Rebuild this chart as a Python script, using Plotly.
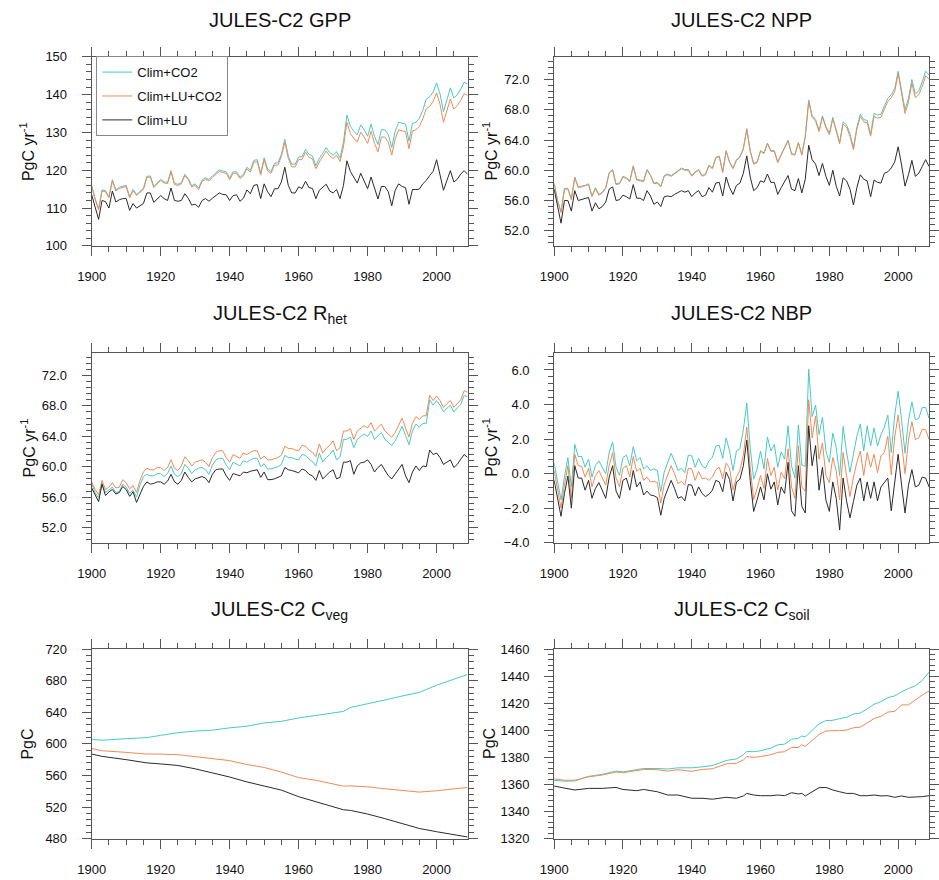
import plotly.graph_objects as go

YEARS = list(range(1900, 2010))

# ---------------- GPP ----------------
gpp_clim_co2 = [116.0,112.5,109.8,114.8,114.6,113.0,117.5,114.8,115.5,115.8,
                116.0,113.0,114.9,113.6,114.4,115.2,118.4,118.5,115.7,116.8,
                117.6,116.9,116.8,119.9,116.5,116.3,116.7,118.9,117.8,115.9,
                116.4,115.3,117.4,118.0,117.6,118.5,119.2,120.1,119.8,119.6,
                117.9,119.6,119.6,118.2,118.9,120.8,120.0,122.6,122.8,119.2,
                123.3,120.3,119.7,121.8,122.0,124.2,128.2,123.8,121.6,121.6,
                123.5,123.6,125.5,124.2,123.8,121.2,123.1,124.7,126.0,124.7,
                124.0,124.9,123.2,127.5,134.6,131.6,130.3,129.4,132.0,130.7,
                129.0,132.2,129.0,126.8,130.7,130.7,129.4,126.0,130.3,132.7,
                132.4,132.2,127.7,132.4,132.7,133.7,135.9,138.8,139.4,140.7,
                143.1,140.2,135.5,138.5,141.8,139.1,140.0,141.5,143.3,142.8]
gpp_clim_lu_co2 = [115.7,112.2,109.5,114.5,114.3,112.7,117.2,114.5,115.2,115.5,
                   115.7,112.7,114.6,113.3,114.1,114.9,118.1,118.2,115.4,116.5,
                   117.3,116.6,116.5,119.6,116.2,116.0,116.4,118.6,117.5,115.6,
                   116.0,114.9,117.0,117.6,117.2,118.1,118.8,119.7,119.4,119.2,
                   117.5,119.2,119.2,117.8,118.5,120.4,119.5,122.1,122.3,118.7,
                   122.8,119.8,119.2,121.3,121.4,123.6,127.5,123.1,120.9,120.9,
                   122.8,122.9,124.8,123.4,123.0,120.4,122.2,123.8,125.1,123.8,
                   123.1,124.0,122.3,126.2,132.7,129.7,128.4,127.5,130.1,128.8,
                   127.1,130.3,127.1,124.9,128.8,128.8,127.4,124.0,128.3,130.7,
                   130.4,130.2,125.7,130.4,130.7,131.6,133.6,136.3,136.9,138.2,
                   140.5,137.4,132.7,135.7,138.9,136.2,137.1,138.5,140.3,139.8]
gpp_clim_lu = [113.5,110.5,107.0,112.0,111.7,110.0,114.5,111.6,112.2,112.5,
               112.5,109.4,111.2,110.0,110.6,111.2,114.0,114.0,111.5,112.5,
               113.3,112.5,112.0,115.3,112.0,111.8,112.0,113.8,112.6,110.8,
               111.0,110.2,112.0,112.5,111.8,112.6,113.3,114.0,113.6,113.5,
               112.0,113.3,113.5,111.8,112.6,114.8,113.8,116.0,116.2,112.5,
               116.4,114.3,113.0,115.1,115.1,116.9,120.8,116.0,114.0,114.0,
               115.6,115.2,117.1,115.4,115.2,112.5,114.7,115.4,116.3,114.5,
               114.0,114.9,112.5,116.0,122.5,119.7,118.2,116.6,119.2,117.3,
               115.1,118.2,115.1,112.4,115.7,115.7,114.3,110.6,114.7,116.4,
               115.7,115.4,111.0,114.9,114.9,115.0,116.4,117.3,118.6,119.7,
               122.8,119.0,114.7,117.3,119.9,116.9,117.6,119.0,119.9,118.9]

# ---------------- NPP ----------------
npp_clim_co2 = [58.3,56.0,54.5,57.6,57.6,56.2,59.1,57.8,57.9,58.0,
                58.2,56.6,57.7,56.8,57.1,57.7,59.7,60.1,58.2,58.3,
                59.2,59.0,58.6,60.6,58.8,58.7,58.6,60.1,59.4,58.3,
                58.4,57.9,59.3,59.5,59.3,59.6,59.9,60.3,60.1,60.1,
                59.3,59.8,60.1,59.3,59.5,60.7,60.3,61.7,61.9,59.8,
                62.6,61.1,60.3,61.4,61.8,62.9,65.5,62.6,60.9,61.1,
                62.6,62.3,63.6,62.6,62.6,61.1,62.1,63.1,64.0,62.2,
                62.1,63.7,62.1,64.5,69.3,67.2,66.7,65.3,67.2,65.8,
                64.9,67.0,65.2,63.7,66.4,66.0,64.8,63.0,65.7,67.4,
                66.7,66.6,64.8,67.5,67.3,67.4,68.5,69.5,70.0,70.8,
                73.1,70.4,68.0,69.5,72.0,70.1,70.5,71.7,73.1,72.6]
npp_clim_lu_co2 = [58.2,55.9,54.4,57.5,57.5,56.1,59.0,57.7,57.8,57.9,
                   58.1,56.5,57.6,56.7,57.0,57.6,59.6,60.0,58.1,58.2,
                   59.1,58.9,58.5,60.5,58.7,58.6,58.5,60.0,59.3,58.2,
                   58.3,57.8,59.2,59.4,59.2,59.5,59.8,60.2,60.0,60.0,
                   59.2,59.7,60.0,59.2,59.4,60.6,60.2,61.6,61.8,59.7,
                   62.5,61.0,60.2,61.3,61.7,62.8,65.4,62.5,60.8,61.0,
                   62.5,62.2,63.5,62.5,62.5,61.0,62.0,63.0,63.9,62.1,
                   62.0,63.6,62.0,64.4,69.1,67.0,66.5,65.1,67.0,65.6,
                   64.7,66.8,65.0,63.5,66.1,65.7,64.5,62.7,65.4,67.1,
                   66.4,66.3,64.5,67.1,66.9,67.0,68.1,69.1,69.6,70.4,
                   72.8,69.9,67.5,69.0,71.5,69.6,70.0,71.1,72.5,72.0]
npp_clim_lu = [57.5,55.0,53.0,56.0,56.0,54.6,57.3,56.0,56.1,56.3,
               56.4,54.6,55.7,54.9,55.2,55.8,57.5,57.8,56.0,56.1,
               56.7,56.5,56.2,58.1,56.3,56.3,56.0,57.3,56.6,55.5,
               55.8,55.2,56.5,56.6,56.5,56.8,57.0,57.3,57.1,57.3,
               56.5,57.0,57.3,56.5,56.7,57.7,57.1,58.3,58.4,56.6,
               59.1,57.7,56.8,58.0,58.3,59.6,61.9,59.1,57.3,57.7,
               58.6,58.4,59.5,58.4,58.4,56.8,57.7,58.6,59.3,57.5,
               57.3,58.9,57.0,58.8,63.3,61.4,60.8,59.3,60.9,59.2,
               58.0,60.0,57.9,56.6,59.0,58.6,57.5,55.4,57.7,59.4,
               58.8,58.6,56.5,58.7,58.4,58.3,59.6,59.8,60.3,61.1,
               63.1,60.7,57.9,59.4,61.3,59.2,59.6,60.5,61.4,60.5]

# ---------------- Rhet ----------------
rhet_clim_co2 = [57.7,56.6,55.9,57.8,56.6,56.9,57.3,56.6,56.7,57.7,
                 57.3,56.5,56.9,56.0,57.6,58.7,59.0,58.8,58.8,59.1,
                 59.1,58.7,59.1,60.1,59.0,58.7,59.1,60.3,59.8,59.1,
                 59.6,59.8,59.9,59.6,59.0,60.2,60.9,61.1,61.1,60.2,
                 59.6,60.6,60.4,60.1,60.8,60.6,60.9,61.1,61.1,60.0,
                 60.4,59.7,59.7,59.8,60.0,60.3,61.5,61.2,61.2,61.0,
                 60.9,61.6,61.5,61.0,60.7,60.1,61.8,60.6,61.2,61.6,
                 62.2,60.9,61.3,63.6,63.6,63.9,62.5,63.6,63.9,64.3,
                 64.0,64.7,63.6,64.0,64.5,63.6,63.2,62.8,63.4,64.3,
                 65.3,64.1,62.9,64.7,65.6,65.2,65.7,65.7,68.8,68.1,
                 68.7,68.1,67.2,67.7,68.1,67.2,67.7,68.2,69.4,69.2]
rhet_clim_lu_co2 = [58.0,57.0,56.3,58.2,57.0,57.3,57.9,57.2,57.3,58.3,
                    57.9,57.1,57.5,56.6,58.2,59.3,59.8,59.6,59.6,59.9,
                    59.9,59.5,59.9,60.9,59.8,59.5,60.1,61.3,60.8,60.1,
                    60.6,60.8,60.9,60.6,60.0,61.2,61.9,62.1,62.1,61.2,
                    60.6,61.6,61.4,61.1,61.8,61.6,61.9,62.1,62.1,61.0,
                    61.4,60.9,60.9,61.0,61.2,61.5,62.7,62.4,62.4,62.2,
                    62.1,62.8,62.7,62.2,61.9,61.3,63.0,61.8,62.4,62.8,
                    63.4,62.1,62.5,64.7,64.7,65.0,63.6,64.7,65.0,65.4,
                    65.1,65.8,64.7,65.1,65.6,64.7,64.3,63.9,64.5,65.4,
                    66.4,65.1,63.9,65.7,66.6,66.2,66.7,66.7,69.4,68.7,
                    69.3,68.7,67.8,68.3,68.7,67.8,68.3,68.8,70.0,69.8]
rhet_clim_lu = [57.2,56.2,55.4,57.7,56.2,56.7,57.0,56.4,56.6,57.4,
                57.0,56.1,56.7,55.3,56.4,57.4,58.0,57.7,57.8,58.0,
                58.0,57.7,58.1,59.0,58.0,57.7,58.2,59.3,58.6,58.0,
                58.4,58.6,58.7,58.5,57.9,59.0,59.6,59.7,59.7,58.8,
                58.2,59.1,59.0,58.8,59.3,59.2,59.4,59.5,59.6,58.6,
                59.3,58.3,58.3,58.4,58.6,58.8,59.9,59.6,59.5,59.3,
                59.2,59.7,59.5,59.0,58.8,58.2,59.5,58.4,58.9,59.3,
                59.6,58.4,58.6,60.6,60.6,60.8,59.0,60.1,60.5,60.6,
                60.9,60.3,59.3,59.9,60.3,59.5,58.8,58.4,59.0,59.7,
                60.3,58.8,57.9,59.3,60.1,59.5,60.1,60.0,62.2,61.6,
                61.8,61.2,60.3,60.6,60.9,59.9,60.3,61.0,61.6,61.2]

# ---------------- NBP ----------------
nbp_clim_co2 = [0.61,-0.48,-1.52,-0.20,0.93,-0.77,1.69,0.99,0.99,0.37,
                0.84,-0.20,0.46,0.74,0.37,-0.01,1.22,1.82,0.37,-0.10,
                0.93,1.07,0.46,1.56,0.74,0.93,0.27,0.46,0.18,0.27,
                0.18,-1.05,0.08,0.65,1.18,0.74,0.18,0.31,0.05,1.07,
                1.03,0.37,0.88,0.46,0.31,0.74,0.93,1.60,1.63,0.88,
                2.07,1.31,0.18,1.31,1.44,2.54,4.09,1.50,-0.33,0.27,
                1.31,0.27,2.12,1.31,1.69,0.37,1.26,0.84,2.77,0.46,
                -0.26,2.82,0.50,0.42,6.04,3.30,3.96,2.26,3.26,1.31,
                0.65,2.35,1.50,-0.11,2.73,1.26,0.08,1.12,2.16,2.88,
                1.31,2.77,1.60,2.64,1.60,2.26,2.69,3.39,1.22,3.39,
                4.77,3.11,1.18,3.07,4.15,3.11,3.20,3.83,3.83,3.20]
nbp_clim_lu_co2 = [0.18,-0.86,-2.00,-0.67,0.46,-1.43,1.12,0.46,0.42,-0.20,
                   0.31,-0.77,-0.11,0.18,-0.26,-0.67,0.46,1.22,-0.26,-0.77,
                   0.31,0.46,-0.20,0.99,0.12,0.31,-0.39,-0.20,-0.48,-0.45,
                   -0.52,-1.71,-0.63,-0.11,0.46,-0.01,-0.58,-0.45,-0.67,0.31,
                   0.27,-0.39,0.12,-0.29,-0.26,-0.39,-0.20,0.23,0.37,-0.29,
                   0.61,0.31,-0.96,-0.20,0.18,1.07,2.69,0.37,-1.52,-0.86,
                   -0.11,-0.86,0.88,-0.11,0.37,-0.96,0.08,-0.29,1.44,-0.77,
                   -1.43,1.63,-0.77,-1.01,4.28,2.07,3.33,0.84,1.78,-0.11,
                   -0.52,0.93,0.18,-1.52,1.22,-0.11,-1.33,-0.20,0.65,1.31,
                   -0.11,1.22,0.37,1.12,0.05,1.03,1.22,2.16,-0.07,2.12,
                   3.39,1.78,-0.01,1.94,3.01,1.97,2.07,2.58,2.54,1.97]
nbp_clim_lu = [-0.39,-1.43,-2.47,-1.15,-0.14,-2.00,0.46,-0.26,-0.26,-0.96,
               -0.39,-1.43,-0.86,-0.52,-1.01,-1.43,-0.20,0.46,-1.01,-1.43,
               -0.39,-0.26,-0.96,0.18,-0.77,-0.48,-1.24,-1.01,-1.24,-1.28,
               -1.39,-2.41,-1.43,-0.96,-0.39,-0.86,-1.43,-1.33,-1.58,-0.63,
               -0.67,-1.28,-0.77,-1.15,-1.33,-1.20,-0.96,-0.39,-0.48,-1.05,
               0.08,-0.33,-1.58,-0.48,-0.33,0.46,1.94,-0.39,-2.19,-1.52,
               -0.77,-1.52,-0.01,-0.90,-0.48,-1.81,-0.77,-1.15,0.65,-2.15,
               -2.47,0.46,-1.90,-2.28,2.77,0.46,1.63,-0.96,0.37,-1.52,
               -2.19,-0.48,-1.43,-3.26,-0.26,-1.58,-2.56,-1.62,-0.67,-0.26,
               -1.58,-0.48,-1.43,-0.48,-1.58,-0.77,-0.48,-0.26,-2.15,-0.48,
               1.12,-0.67,-2.28,-0.67,0.23,-0.77,-0.67,-0.20,-0.26,-0.77]

# ---------------- Cveg (read at sampled years) ----------------
CVEG_YEARS = [1900,1903,1910,1916,1920,1925,1930,1935,1940,1945,1950,1955,
              1960,1965,1970,1973,1975,1980,1985,1990,1995,2000,2005,2009]
cveg_clim_co2 = [605.8,604.6,606.6,607.9,610.8,614.1,616.2,617.4,620.3,622.4,626.5,628.6,
                 632.8,635.7,639.0,641.1,646.1,650.6,655.6,660.6,665.2,674.3,681.8,688.0]
cveg_clim_lu_co2 = [594.2,591.3,589.2,587.1,587.1,586.3,583.8,580.9,578.8,573.8,570.1,564.3,
                    557.2,553.9,549.7,546.4,546.8,545.6,543.1,540.6,538.9,540.6,543.1,544.8]
cveg_clim_lu = [587.1,584.2,580.0,575.9,574.6,572.6,568.4,563.4,558.0,551.8,547.0,541.4,
                533.1,526.9,519.8,516.5,515.7,511.1,505.3,499.1,492.8,488.7,485.4,482.0]

# ---------------- Csoil (read at sampled years) ----------------
CSOIL_YEARS = [1900,1903,1906,1910,1914,1918,1920,1924,1926,1930,1933,1936,1940,1943,1946,
               1950,1953,1955,1956,1958,1960,1963,1965,1967,1969,1971,1972,1973,1975,1977,
               1979,1981,1983,1985,1987,1989,1991,1993,1995,1997,1999,2001,2003,2005,2007,2009]
csoil_clim_co2 = [1363.1,1362.4,1362.6,1366.0,1367.5,1369.9,1369.2,1370.9,1371.8,1371.8,1371.4,1372.3,
                  1372.3,1373.0,1374.0,1377.7,1378.9,1382.0,1384.4,1384.2,1384.9,1386.9,1389.3,1389.8,
                  1393.4,1394.1,1395.8,1395.1,1399.9,1404.8,1407.2,1407.4,1408.7,1409.6,1412.0,1412.8,
                  1415.9,1419.3,1421.2,1424.2,1425.4,1428.5,1430.9,1432.9,1437.0,1443.0]
csoil_clim_lu_co2 = [1364.1,1363.1,1363.1,1365.6,1367.0,1369.2,1368.7,1370.0,1371.1,1370.9,1369.9,1370.9,
                     1369.7,1371.1,1371.6,1375.2,1375.7,1378.1,1380.6,1380.1,1380.6,1382.0,1383.7,1384.2,
                     1387.3,1387.3,1389.3,1388.1,1392.2,1397.0,1399.5,1399.5,1399.9,1400.2,1401.9,1402.4,
                     1405.5,1408.7,1410.4,1413.5,1414.0,1418.8,1418.8,1422.5,1426.1,1429.0]
csoil_clim_lu = [1358.8,1357.1,1355.9,1357.1,1357.1,1357.8,1356.3,1355.4,1356.3,1354.6,1352.2,1352.2,
                 1349.8,1349.8,1349.1,1350.5,1349.8,1351.5,1353.4,1352.2,1351.7,1351.7,1352.2,1351.7,
                 1353.9,1353.0,1353.4,1351.5,1354.6,1357.6,1357.8,1355.9,1354.6,1353.4,1353.4,1351.7,
                 1351.7,1352.2,1351.5,1351.7,1350.5,1351.5,1350.5,1350.5,1351.0,1351.7]

SERIES_NAMES = ["Clim+CO2", "Clim+LU+CO2", "Clim+LU"]
COLORS = ["#48C9C6", "#EF8A55", "#2a2a2a"]

TITLES = ["JULES-C2 GPP", "JULES-C2 NPP", "JULES-C2 R<sub>het</sub>",
          "JULES-C2 NBP", "JULES-C2 C<sub>veg</sub>", "JULES-C2 C<sub>soil</sub>"]
YLABELS = ["PgC yr<sup>-1</sup>"] * 4 + ["PgC", "PgC"]

panels = [
    (YEARS, [gpp_clim_co2, gpp_clim_lu_co2, gpp_clim_lu]),
    (YEARS, [npp_clim_co2, npp_clim_lu_co2, npp_clim_lu]),
    (YEARS, [rhet_clim_co2, rhet_clim_lu_co2, rhet_clim_lu]),
    (YEARS, [nbp_clim_co2, nbp_clim_lu_co2, nbp_clim_lu]),
    (CVEG_YEARS, [cveg_clim_co2, cveg_clim_lu_co2, cveg_clim_lu]),
    (CSOIL_YEARS, [csoil_clim_co2, csoil_clim_lu_co2, csoil_clim_lu]),
]
# y axis: range, major tick0, major dtick, minor dtick, tick format
YAXES = [
    ([100, 150], 100, 10, 2, "d"),
    ([50, 75], 52, 4, 0.8, ".1f"),
    ([50, 75], 52, 4, 0.8, ".1f"),
    ([-4, 7], -4, 2, 0.4, ".1f"),
    ([480, 720], 480, 40, 8, "d"),
    ([1320, 1460], 1320, 20, 4, "d"),
]

W, H = 939, 880
FONT = "Liberation Sans, Arial, Helvetica, sans-serif"
AX = "#555555"
# panel pixel boxes (left, right, top, bottom)
COLS = [(79.3, 463.0), (551.3, 934.0)]
ROWS = [(50.7, 243.0), (351.7, 545.0), (653.3, 846.0)]
TITLE_CENTERS = [18, 316, 617]
YLAB_X = [14, 486]

fig = go.Figure()
layout = dict(
    width=W, height=H, margin=dict(l=0, r=0, t=0, b=0),
    paper_bgcolor="white", plot_bgcolor="white",
    font=dict(family=FONT, color="#111111"),
    annotations=[],
)

for i, (xs, ys_list) in enumerate(panels):
    r, c = divmod(i, 2)
    xl, xr = COLS[c]
    yt, yb = ROWS[r]
    sfx = "" if i == 0 else str(i + 1)
    for k, ys in enumerate(ys_list):
        fig.add_trace(go.Scatter(
            x=xs, y=ys, mode="lines", name=SERIES_NAMES[k],
            line=dict(color=COLORS[k], width=1),
            xaxis="x" + sfx, yaxis="y" + sfx,
            showlegend=(i == 0), legendgroup=SERIES_NAMES[k],
            hoverinfo="skip",
        ))
    yrng, y0, ydt, ymin, yfmt = YAXES[i]
    layout["xaxis" + sfx] = dict(
        domain=[xl / W, xr / W], anchor="y" + sfx, range=[1900, 2009],
        tick0=1900, dtick=20, ticks="outside", ticklen=9, tickwidth=1, tickcolor=AX,
        showline=True, linecolor=AX, linewidth=1, mirror="allticks",
        showgrid=False, zeroline=False,
        tickfont=dict(size=13, family=FONT, color="#111111"),
        ticklabelstandoff=10,
        minor=dict(ticks="outside", ticklen=5, tickwidth=1, tickcolor=AX,
                   dtick=5, tick0=1900, showgrid=False),
    )
    layout["yaxis" + sfx] = dict(
        domain=[1 - yb / H, 1 - yt / H], anchor="x" + sfx, range=yrng,
        tick0=y0, dtick=ydt, tickformat=yfmt,
        ticks="outside", ticklen=9, tickwidth=1, tickcolor=AX,
        showline=True, linecolor=AX, linewidth=1, mirror="allticks",
        showgrid=False, zeroline=False,
        tickfont=dict(size=13, family=FONT, color="#111111"),
        ticklabelstandoff=12,
        minor=dict(ticks="outside", ticklen=5, tickwidth=1, tickcolor=AX,
                   dtick=ymin, tick0=y0, showgrid=False),
    )
    # panel title
    layout["annotations"].append(dict(
        text=TITLES[i], x=(xl + xr) / 2 / W, y=1 - (TITLE_CENTERS[r] - 18) / H,
        xref="paper", yref="paper", xanchor="center", yanchor="top",
        showarrow=False, font=dict(size=20, family=FONT, color="#111111"),
    ))
    # y-axis label
    layout["annotations"].append(dict(
        text=YLABELS[i], x=YLAB_X[c] / W, y=1 - (yt + yb) / 2 / H,
        xref="paper", yref="paper", xanchor="center", yanchor="middle",
        textangle=-90, showarrow=False,
        font=dict(size=16, family=FONT, color="#111111"),
    ))

layout["legend"] = dict(
    x=84 / W, y=1 - 50 / H, xanchor="left", yanchor="top",
    bordercolor="#888888", borderwidth=1, bgcolor="white",
    font=dict(size=13, family=FONT, color="#111111"),
    traceorder="grouped", tracegroupgap=4,
)
fig.update_layout(**layout)
fig.write_html("out.html")
